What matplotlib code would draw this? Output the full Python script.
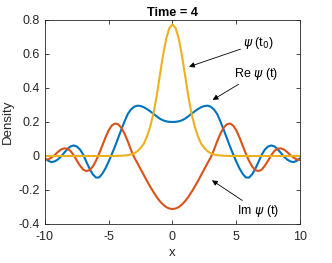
import numpy as np
import matplotlib
matplotlib.use('Agg')
import matplotlib.pyplot as plt

plt.rcParams['font.family'] = ['Liberation Sans', 'DejaVu Sans']
plt.rcParams['mathtext.fontset'] = 'dejavusans'

# sample grid, -10 .. 10 in 0.25 steps
x = np.linspace(-10, 10, 81)

re_psi = [-0.014, -0.028, -0.036, -0.032, -0.021, -0.004, 0.018, 0.040, 0.056, 0.062,
          0.056, 0.038, 0.008, -0.035, -0.075, -0.108, -0.127, -0.126, -0.104, -0.072,
          -0.032, 0.012, 0.058, 0.108, 0.158, 0.205, 0.248, 0.274, 0.290, 0.296,
          0.294, 0.287, 0.276, 0.263, 0.249, 0.234, 0.220, 0.210, 0.204, 0.201,
          0.200,
          0.201, 0.204, 0.210, 0.220, 0.234, 0.249, 0.263, 0.276, 0.287, 0.294,
          0.296, 0.290, 0.274, 0.248, 0.205, 0.158, 0.108, 0.058, 0.012, -0.032,
          -0.072, -0.104, -0.126, -0.127, -0.108, -0.075, -0.035, 0.008, 0.038, 0.056,
          0.062, 0.056, 0.040, 0.018, -0.004, -0.021, -0.032, -0.036, -0.028, -0.014]

im_psi = [-0.024, -0.020, -0.010, 0.005, 0.023, 0.038, 0.045, 0.043, 0.030, 0.005,
          -0.027, -0.057, -0.080, -0.089, -0.083, -0.062, -0.028, 0.015, 0.062, 0.110,
          0.152, 0.180, 0.191, 0.186, 0.165, 0.130, 0.085, 0.035, -0.008, -0.042,
          -0.077, -0.112, -0.147, -0.180, -0.211, -0.240, -0.265, -0.285, -0.300, -0.309,
          -0.312,
          -0.309, -0.300, -0.285, -0.265, -0.240, -0.211, -0.180, -0.147, -0.112, -0.077,
          -0.042, -0.008, 0.035, 0.085, 0.130, 0.165, 0.186, 0.191, 0.180, 0.152,
          0.110, 0.062, 0.015, -0.028, -0.062, -0.083, -0.089, -0.080, -0.057, -0.027,
          0.005, 0.030, 0.043, 0.045, 0.038, 0.023, 0.005, -0.010, -0.020, -0.024]

psi_t0 = [0.0, 0.0, 0.0, 0.0, 0.0, 0.0, 0.0, 0.0, 0.0, 0.0,
          0.0, 0.0, 0.0, 0.0, 0.0, 0.0, 0.0, 0.0, 0.0, 0.0,
          0.0, 0.0, 0.0, 0.001, 0.002, 0.003, 0.005, 0.009, 0.016, 0.028,
          0.047, 0.072, 0.115, 0.172, 0.248, 0.348, 0.470, 0.588, 0.688, 0.752,
          0.775,
          0.752, 0.688, 0.588, 0.470, 0.348, 0.248, 0.172, 0.115, 0.072, 0.047,
          0.028, 0.016, 0.009, 0.005, 0.003, 0.002, 0.001, 0.0, 0.0, 0.0,
          0.0, 0.0, 0.0, 0.0, 0.0, 0.0, 0.0, 0.0, 0.0, 0.0,
          0.0, 0.0, 0.0, 0.0, 0.0, 0.0, 0.0, 0.0, 0.0, 0.0]

xticks = [-10, -5, 0, 5, 10]
xtick_labels = ['-10', '-5', '0', '5', '10']
yticks = [-0.4, -0.2, 0, 0.2, 0.4, 0.6, 0.8]
ytick_labels = ['-0.4', '-0.2', '0', '0.2', '0.4', '0.6', '0.8']

fig = plt.figure(figsize=(3.32, 2.63), dpi=100)
ax = fig.add_axes([0.1355, 0.1483, 0.768, 0.7757])

ax.plot(x, re_psi, color='#0072BD', lw=1.5)
ax.plot(x, im_psi, color='#D95319', lw=1.5)
ax.plot(x, psi_t0, color='#EDB120', lw=1.5)

ax.set_xlim(-10, 10)
ax.set_ylim(-0.4, 0.8)
ax.set_xticks(xticks)
ax.set_xticklabels(xtick_labels)
ax.set_yticks(yticks)
ax.set_yticklabels(ytick_labels)

axcol = '#262626'
for s in ax.spines.values():
    s.set_color(axcol)
    s.set_linewidth(0.6)
ax.tick_params(direction='in', length=3, width=0.6, colors=axcol,
               labelsize=9, top=True, right=True)
ax.tick_params(axis='x', pad=5)
ax.tick_params(axis='y', pad=4)

ax.set_xlabel('x', fontsize=9.5, color=axcol, labelpad=3)
ax.set_ylabel('Density', fontsize=9.5, color=axcol, labelpad=3)
ax.set_title('Time = 4', fontsize=9.2, fontweight='bold', pad=3)

arrow = dict(arrowstyle='-|>', color='black', lw=0.6, mutation_scale=8,
             shrinkA=0, shrinkB=0)
ax.annotate(r'$\psi$ (t$_0$)', xy=(1.3, 0.525), xytext=(5.55, 0.665),
            fontsize=9, va='center', ha='left', arrowprops=arrow)
ax.annotate(r'Re $\psi$ (t)', xy=(3.15, 0.33), xytext=(4.85, 0.485),
            fontsize=9, va='center', ha='left', arrowprops=arrow)
ax.annotate(r'Im $\psi$ (t)', xy=(3.1, -0.143), xytext=(5.1, -0.325),
            fontsize=9, va='center', ha='left', arrowprops=arrow)

fig.savefig('out.png', dpi=100)
